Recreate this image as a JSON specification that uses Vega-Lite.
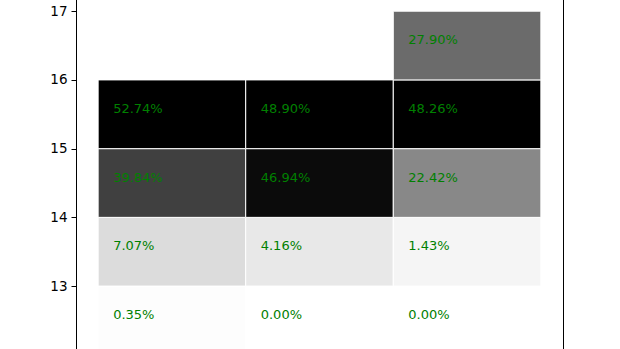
{
  "$schema": "https://vega.github.io/schema/vega-lite/v6.json",
  "autosize": "none",
  "width": 487,
  "height": 378,
  "padding": {"left": 76, "top": -6, "right": 57, "bottom": 0},
  "background": "white",
  "config": {
    "view": {"stroke": "black", "strokeWidth": 1},
    "font": "DejaVu Sans"
  },
  "data": {
    "values": [
      {"x0": 0, "x1": 1, "y0": 12, "y1": 13, "share": 0.0035},
      {"x0": 1, "x1": 2, "y0": 12, "y1": 13, "share": 0.0000},
      {"x0": 2, "x1": 3, "y0": 12, "y1": 13, "share": 0.0000},
      {"x0": 0, "x1": 1, "y0": 13, "y1": 14, "share": 0.0707},
      {"x0": 1, "x1": 2, "y0": 13, "y1": 14, "share": 0.0416},
      {"x0": 2, "x1": 3, "y0": 13, "y1": 14, "share": 0.0143},
      {"x0": 0, "x1": 1, "y0": 14, "y1": 15, "share": 0.3984},
      {"x0": 1, "x1": 2, "y0": 14, "y1": 15, "share": 0.4694},
      {"x0": 2, "x1": 3, "y0": 14, "y1": 15, "share": 0.2242},
      {"x0": 0, "x1": 1, "y0": 15, "y1": 16, "share": 0.5274},
      {"x0": 1, "x1": 2, "y0": 15, "y1": 16, "share": 0.4890},
      {"x0": 2, "x1": 3, "y0": 15, "y1": 16, "share": 0.4826},
      {"x0": 2, "x1": 3, "y0": 16, "y1": 17, "share": 0.2790}
    ]
  },
  "encoding": {
    "x": {"field": "x0", "type": "quantitative", "scale": {"domain": [-0.15, 3.15], "nice": false, "zero": false}, "axis": null}
  },
  "layer": [
    {
      "mark": {"type": "rect", "stroke": "white", "strokeWidth": 1},
      "encoding": {
        "x2": {"field": "x1"},
        "y": {
          "field": "y0", "type": "quantitative",
          "scale": {"domain": [11.75, 17.25], "nice": false, "zero": false},
          "axis": {
            "values": [13, 14, 15, 16, 17],
            "format": "d",
            "title": null,
            "grid": false,
            "domain": false,
            "tickColor": "black",
            "tickSize": 5,
            "tickWidth": 1,
            "labelPadding": 4,
            "labelFontSize": 13.5,
            "labelColor": "black",
            "labelFont": "DejaVu Sans"
          }
        },
        "y2": {"field": "y1"},
        "fill": {
          "field": "share", "type": "quantitative",
          "scale": {
            "domain": [0, 0.0035, 0.0143, 0.0416, 0.0707, 0.2242, 0.279, 0.3984, 0.4694, 0.4826],
            "range": ["#ffffff", "#fdfdfd", "#f5f5f5", "#e8e8e8", "#dcdcdc", "#888888", "#6b6b6b", "#404040", "#0b0b0b", "#000000"],
            "clamp": true
          },
          "legend": null
        }
      }
    },
    {
      "mark": {"type": "text", "color": "green", "align": "left", "baseline": "alphabetic", "dx": 15, "dy": 33, "fontSize": 13, "font": "DejaVu Sans"},
      "encoding": {
        "y": {"field": "y1", "type": "quantitative"},
        "text": {"field": "share", "type": "quantitative", "format": ".2%"}
      }
    }
  ]
}
